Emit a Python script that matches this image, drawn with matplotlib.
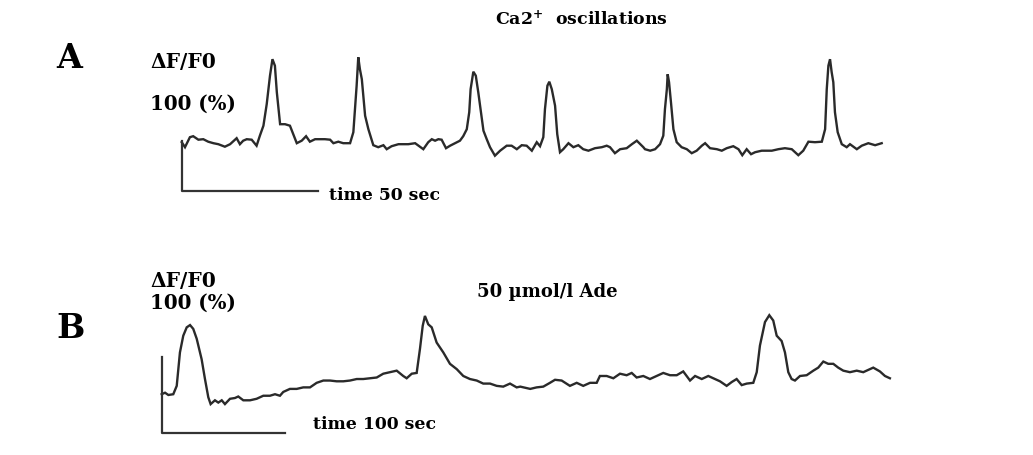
import matplotlib
matplotlib.use("Agg")
import matplotlib.pyplot as plt
import numpy as np

plt.rcParams['font.family'] = ['DejaVu Serif']
plt.rcParams['mathtext.fontset'] = 'dejavuserif'

# ---------------- data ----------------
# Panel A: spontaneous Ca2+ oscillations, time in s, dF/F0 in %
a_time = [0.0, 1.2, 3.0, 4.2, 6.1, 7.9, 9.7, 11.6, 13.4, 15.8, 17.7, 20.1, 21.3, 22.5, 23.8,
          25.6, 27.4, 28.6, 29.9, 31.1, 32.3, 33.2, 34.1, 34.8, 36.0, 37.8, 39.6, 40.8, 42.1,
          43.9, 45.5, 46.9, 48.8, 52.4, 54.3, 55.5, 57.3, 59.1, 61.6, 62.8, 63.4, 64.0, 64.6,
          65.2, 65.9, 67.1, 68.3, 70.1, 71.9, 73.8, 75.0, 76.8, 79.3, 82.9, 85.4, 88.4, 90.2,
          91.5, 92.7, 93.9, 95.1, 96.7, 98.2, 100.0, 101.8, 103.0, 104.3, 105.2, 105.7, 106.7,
          107.6, 108.5, 109.5, 110.4, 111.6, 112.8, 114.6, 116.5, 118.9, 120.7, 122.6, 124.4,
          126.2, 128.1, 129.9, 131.1, 132.3, 132.9, 133.8, 134.5, 135.4, 136.6, 137.4, 138.4,
          139.6, 141.5, 143.3, 145.1, 146.9, 148.8, 151.2, 153.7, 155.5, 156.7, 158.5, 160.4,
          162.8, 164.7, 166.5, 168.9, 169.5, 171.4, 173.2, 175.0, 176.2, 176.8, 177.5, 177.8,
          178.3, 179.0, 179.9, 181.1, 182.9, 184.8, 186.6, 188.4, 190.3, 191.5, 193.3, 195.8,
          197.6, 199.4, 201.8, 203.7, 205.1, 206.7, 208.3, 209.8, 212.2, 215.9, 218.3, 220.7,
          223.2, 225.6, 227.4, 229.3, 231.7, 234.2, 235.4, 236.0, 236.6, 237.2, 237.8, 238.4,
          239.0, 240.0, 241.5, 243.3, 244.5, 247.0, 248.8, 251.2, 253.7, 256.1]
a_dff = [97, 87, 107, 109, 102, 103, 98, 95, 93, 88, 93, 105, 93, 100, 103,
         102, 90, 110, 130, 173, 230, 263, 250, 197, 133, 133, 130, 113, 95,
         100, 109, 98, 103, 103, 102, 95, 98, 95, 95, 117, 163, 210, 267,
         243, 223, 150, 123, 91, 87, 91, 83, 89, 93, 93, 95, 83, 97,
         103, 100, 103, 102, 85, 90, 95, 100, 109, 123, 157, 203, 238,
         230, 197, 157, 120, 103, 87, 70, 80, 90, 90, 83, 91,
         90, 80, 97, 89, 107, 163, 210, 218, 203, 170, 113, 77,
         83, 95, 87, 91, 83, 80, 85, 87, 90, 87, 75, 83,
         85, 93, 100, 87, 83, 80, 83, 93, 110, 163, 203, 233,
         217, 177, 123, 97, 87, 83, 75, 80, 90, 95, 85, 83,
         80, 85, 89, 83, 71, 83, 73, 77, 80, 80, 83, 85,
         83, 71, 80, 98, 97, 98, 123, 203, 250, 263, 237, 217,
         157, 117, 93, 87, 93, 83, 90, 95, 91, 95]

# Panel B: 50 umol/l Ade, time in s, dF/F0 in %
b_time = [0.0, 2.7, 5.4, 9.4, 12.2, 14.8, 17.5, 20.3, 23.0, 25.6, 28.4, 32.4, 35.1, 37.8,
          39.7, 43.2, 45.9, 48.7, 51.3, 55.4, 59.4, 62.1, 66.2, 71.6, 77.0, 82.4, 87.8,
          91.9, 95.9, 98.6, 104.0, 109.5, 114.8, 120.3, 125.7, 131.1, 136.5, 141.9, 147.3,
          152.7, 158.2, 163.5, 168.9, 174.4, 179.7, 185.2, 190.6, 195.9, 198.7, 202.8,
          206.8, 209.5, 211.7, 213.5, 216.2, 219.0, 223.0, 228.4, 233.8, 239.3, 244.6,
          250.0, 255.5, 260.8, 266.3, 271.7, 277.0, 282.5, 287.9, 290.8, 298.9, 304.1,
          309.5, 314.9, 319.0, 324.4, 331.1, 336.6, 341.9, 347.4, 352.8, 355.4, 360.9,
          366.3, 371.7, 377.1, 381.2, 385.2, 390.6, 396.0, 401.5, 406.8, 412.3, 417.7,
          423.0, 428.5, 432.6, 438.0, 443.3, 447.4, 452.8, 458.2, 462.3, 466.3, 470.4,
          474.5, 479.8, 482.6, 485.2, 489.3, 492.8, 496.0, 498.8, 502.8, 505.5, 508.2,
          510.9, 513.6, 517.7, 523.1, 528.5, 532.5, 536.6, 540.6, 544.7, 548.7, 552.8,
          558.2, 563.7, 569.0, 573.1, 577.1, 582.5, 586.6, 590.6]
b_dff = [51, 53, 50, 51, 62, 106, 128, 139, 142, 137, 124, 97, 71, 47,
         38, 43, 40, 43, 38, 45, 46, 48, 43, 43, 45, 49, 49,
         51, 49, 54, 58, 58, 60, 60, 66, 69, 69, 68, 68,
         69, 71, 71, 72, 73, 78, 80, 82, 75, 72, 78,
         79, 111, 141, 154, 143, 139, 119, 106, 91, 84, 75,
         71, 69, 65, 65, 62, 61, 65, 60, 61, 58, 60,
         61, 66, 70, 69, 62, 66, 62, 66, 66, 75, 75,
         72, 78, 76, 79, 73, 75, 71, 75, 79, 76, 76,
         81, 69, 75, 71, 75, 72, 68, 62, 67, 71, 63,
         65, 66, 80, 115, 146, 155, 148, 128, 121, 106, 80,
         71, 69, 75, 76, 82, 86, 94, 91, 91, 86, 82,
         80, 82, 80, 83, 86, 81, 75, 72]

a_bar_time, a_bar_dff = 50, 100
b_bar_time, b_bar_dff = 100, 100

# ---------------- figure ----------------
W, H = 1033, 456
fig = plt.figure(figsize=(W / 100, H / 100), dpi=100)
fig.patch.set_facecolor('white')

def px_axes(x0, y0, x1, y1):
    return fig.add_axes([x0 / W, 1 - y1 / H, (x1 - x0) / W, (y1 - y0) / H])

trace_color = '#2a2a2a'
bar_color = '#333333'

axA = px_axes(150, 40, 900, 200)
axA.plot(a_time, a_dff, color=trace_color, lw=1.7, solid_joinstyle='miter')
axA.plot([0, 0, a_bar_time], [a_bar_dff, 0, 0], color=bar_color, lw=1.6)
axA.set_xlim(-11.6, 262.8)
axA.set_ylim(-16.6, 303.4)
axA.axis('off')

axB = px_axes(130, 300, 900, 445)
axB.plot(b_time, b_dff, color=trace_color, lw=1.7, solid_joinstyle='miter')
axB.plot([0, 0, b_bar_time], [b_bar_dff, 0, 0], color=bar_color, lw=1.6)
axB.set_xlim(-25.7, 598.8)
axB.set_ylim(-14.5, 176.3)
axB.axis('off')

def ftext(x, y, s, size, ha='left', va='center'):
    fig.text(x / W, 1 - y / H, s, fontsize=size, fontweight='bold',
             ha=ha, va=va, color='black')

ftext(56, 58, 'A', 24)
ftext(56, 328, 'B', 24)
ftext(150, 62, 'ΔF/F0', 14.5)
ftext(150, 104, '100 (%)', 14.3)
ftext(150, 281, 'ΔF/F0', 14.5)
ftext(150, 303, '100 (%)', 14.3)
ftext(329, 196, 'time 50 sec', 12.4)
ftext(313, 425, 'time 100 sec', 12.4)
ftext(495, 19, r'Ca2$^{\mathbf{+}}$  oscillations', 12.5)
ftext(477, 292, '50 µmol/l Ade', 13)

fig.savefig('out.png', dpi=100, facecolor='white')
